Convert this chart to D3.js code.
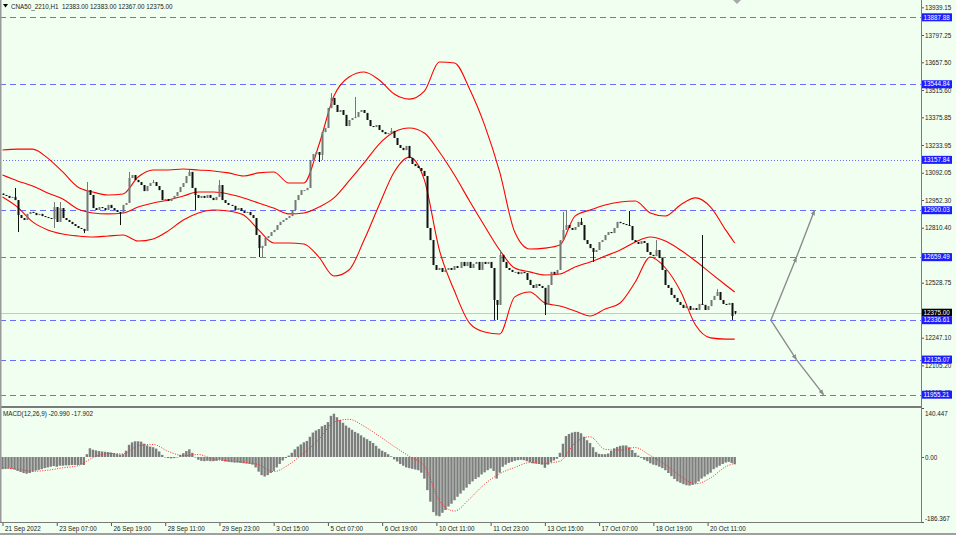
<!DOCTYPE html>
<html>
<head>
<meta charset="utf-8">
<script src="https://cdn.jsdelivr.net/npm/d3@7"></script>
<style>
body { margin: 0; background: #f0fff0; }
text { font-family: "Liberation Sans", Arial, sans-serif; font-size: 6.3px; fill: #222; }
</style>
</head>
<body>
<div id="chart"></div>
<script>
//hourly closes, one per bar
var closes = [
  12978, 12973, 12963, 12968, 12952, 12875, 12860, 12850, 12881, 12891,
  12886, 12875, 12881, 12870, 12865, 12860, 12855, 12916, 12840, 12911,
  12860, 12850, 12840, 12829, 12819, 12809, 12804, 12794, 13003, 12978,
  12911, 12901, 12916, 12911, 12901, 12927, 12911, 12901, 12891, 12886,
  12927, 12937, 13065, 13080, 13055, 13044, 13029, 12998, 13024, 13039,
  13044, 13024, 13003, 12952, 12957, 12947, 12957, 12973, 12993, 13019,
  13039, 13075, 13096, 13014, 12978, 12963, 12973, 12963, 12978, 12963,
  12952, 12968, 13029, 12952, 12937, 12927, 12922, 12901, 12911, 12896,
  12886, 12891, 12875, 12860, 12773, 12706, 12717, 12758, 12768, 12788,
  12799, 12824, 12840, 12850, 12860, 12870, 12901, 12952, 12978, 13003,
  13003, 13014, 13157, 13188, 13198, 13183, 13300, 13321, 13423, 13475,
  13439, 13403, 13413, 13388, 13331, 13362, 13372, 13377, 13403, 13413,
  13398, 13362, 13331, 13326, 13336, 13311, 13300, 13290, 13295, 13306,
  13270, 13234, 13219, 13208, 13229, 13167, 13137, 13126, 13116, 13101,
  13075, 12809, 12747, 12619, 12594, 12604, 12584, 12594, 12604, 12594,
  12614, 12604, 12635, 12614, 12635, 12604, 12625, 12635, 12594, 12635,
  12625, 12635, 12604, 12440, 12415, 12671, 12635, 12604, 12594, 12584,
  12584, 12573, 12584, 12578, 12543, 12517, 12502, 12522, 12512, 12502,
  12415, 12517, 12584, 12573, 12594, 12747, 12799, 12824, 12809, 12799,
  12814, 12840, 12824, 12747, 12727, 12706, 12686, 12696, 12737, 12747,
  12773, 12788, 12783, 12809, 12840, 12834, 12829, 12824, 12819, 12747,
  12737, 12727, 12742, 12732, 12686, 12671, 12665, 12696, 12655, 12594,
  12517, 12502, 12466, 12450, 12430, 12415, 12399, 12409, 12389, 12399,
  12389, 12420, 12415, 12389, 12409, 12440, 12461, 12481, 12440, 12420,
  12415, 12425, 12358, 12375
];
var firstOpen = 12985;
var lastBar = {open: 12383.00, high: 12383.00, low: 12367.00, close: 12375.00};
//bars with long wicks: [bar, high, low]
var spikes = [
  [4, 13014, null], [5, null, 12788], [17, 12942, 12809], [19, 12942, null],
  [27, null, 12783], [28, 13044, null], [39, null, 12824], [42, 13096, null],
  [50, 13055, null], [62, 13106, null], [64, null, 12901], [72, 13055, null],
  [85, null, 12660], [86, null, 12660], [105, null, 13147], [106, null, 13157],
  [109, 13500, null], [117, 13480, null], [129, 13321, null], [163, null, 12338],
  [164, null, 12338], [165, 12696, null], [180, null, 12363], [186, 12891, null],
  [187, 12901, null], [192, 12860, null], [196, null, 12635], [208, 12896, null],
  [217, 12747, null], [232, 12773, null], [237, 12496, null], [242, null, 12338]
];

//bollinger bands, read every 5 bars
var bandIdx = [0, 5, 10, 15, 20, 25, 30, 35, 40, 45, 50, 55, 60, 65, 70, 75, 80, 85, 90, 95,
  100, 105, 110, 115, 120, 125, 130, 135, 140, 145, 150, 155, 160, 165, 170, 175, 180, 185,
  190, 195, 200, 205, 210, 215, 220, 225, 230, 235, 240, 243];
var upperBand = [13208, 13213, 13213, 13167, 13096, 13019, 12993, 12978, 12983, 13070,
  13106, 13106, 13111, 13106, 13101, 13091, 13075, 13091, 13096, 13039,
  13039, 13234, 13485, 13582, 13608, 13567, 13495, 13469, 13510, 13659,
  13654, 13521, 13336, 13096, 12788, 12701, 12706, 12722, 12870, 12901,
  12927, 12942, 12947, 12886, 12870, 12927, 12963, 12916, 12799, 12732];
var middleBand = [13080, 13050, 13024, 12988, 12957, 12906, 12886, 12881, 12886, 12916,
  12937, 12952, 12973, 12993, 12993, 12983, 12963, 12937, 12911, 12881,
  12886, 12916, 12963, 13050, 13142, 13239, 13300, 13321, 13295, 13198,
  13080, 12947, 12819, 12696, 12604, 12584, 12568, 12573, 12609, 12635,
  12665, 12696, 12737, 12763, 12742, 12696, 12640, 12578, 12517, 12481];
var lowerBand = [12968, 12916, 12840, 12799, 12778, 12768, 12763, 12768, 12773, 12742,
  12753, 12794, 12850, 12886, 12901, 12896, 12875, 12799, 12732, 12732,
  12727, 12660, 12563, 12594, 12747, 12927, 13096, 13172, 13055, 12696,
  12486, 12322, 12276, 12266, 12456, 12481, 12425, 12409, 12384, 12358,
  12394, 12425, 12532, 12660, 12604, 12486, 12312, 12246, 12240, 12240];

//macd(12,26,9) main, one per bar
var macdMain = [
  -35, -34, -33, -34, -36, -40, -43, -46, -48, -46,
  -42, -39, -37, -35, -32, -30, -28, -26, -28, -25,
  -25, -24, -24, -23, -23, -23, -22, -23, 8, 25,
  21, 19, 17, 16, 15, 14, 13, 11, 9, 7,
  8, 18, 35, 42, 45, 45, 44, 38, 33, 30,
  28, 24, 16, 6, 0, -3, -4, -3, 0, 6,
  11, 17, 22, 12, 0, -8, -11, -12, -11, -12,
  -12, -11, -8, -11, -13, -14, -15, -16, -16, -17,
  -18, -19, -20, -22, -30, -42, -52, -56, -52, -46,
  -40, -30, -20, -10, -3, 4, 12, 22, 30, 36,
  42, 46, 58, 70, 76, 80, 88, 92, 100, 118,
  124, 114, 106, 98, 90, 84, 78, 72, 68, 62,
  56, 51, 46, 40, 32, 24, 18, 14, 8, 2,
  -7, -13, -20, -25, -30, -32, -34, -36, -38, -45,
  -62, -95, -128, -158, -168, -170, -160, -152, -142, -134,
  -124, -114, -105, -96, -88, -78, -70, -63, -58, -50,
  -44, -38, -33, -40, -62, -45, -28, -22, -17, -14,
  -11, -9, -8, -9, -12, -15, -18, -19, -20, -22,
  -31, -22, -15, -10, -5, 12, 38, 60, 66, 70,
  72, 72, 68, 58, 48, 40, 28, 14, 9, 8,
  8, 10, 18, 25, 29, 32, 33, 33, 28, 20,
  12, 4, -3, -8, -12, -18, -22, -24, -28, -32,
  -38, -46, -55, -63, -70, -74, -78, -81, -82, -80,
  -76, -70, -62, -56, -50, -45, -35, -30, -25, -20,
  -16, -14, -17, -20.99
];
//signal, read every 5 bars (same bars as bandIdx)
var macdSignal = [-31, -35, -41, -38, -31, -25, -2, 10, 9, 32,
  36, 16, 4, 7, -6, -11, -15, -22, -42, -22,
  12, 50, 100, 108, 88, 60, 30, 2, -26, -125,
  -155, -120, -78, -48, -30, -16, -18, -12, 40, 58,
  22, 20, 27, 4, -22, -55, -77, -60, -28, -17.902];

//price ticks (the one under the current price box is hidden there)
var priceTicks = [13939.15, 13797.25, 13657.50, 13515.60, 13375.85, 13233.95, 13092.05,
  12952.30, 12810.40, 12670.65, 12528.75, 12247.10, 12105.20, 11965.45];
var levels = [13887.88, 13544.84, 13157.84, 12900.03, 12659.49, 12336.61, 12135.07, 11955.21];
var dottedLevel = 13157.84;
var macdTicks = [140.447, 0, -186.367];
var timeLabels = [[0, "21 Sep 2022"], [18, "23 Sep 07:00"], [36, "26 Sep 19:00"], [54, "28 Sep 11:00"],
  [72, "29 Sep 23:00"], [90, "3 Oct 15:00"], [108, "5 Oct 07:00"], [126, "6 Oct 19:00"],
  [144, "10 Oct 11:00"], [162, "11 Oct 23:00"], [180, "13 Oct 15:00"], [198, "17 Oct 07:00"],
  [216, "18 Oct 19:00"], [234, "20 Oct 11:00"]];
//projection arrows: [bar, price]
var arrowUp = [[255, 12336.61], [263.5, 12659.49], [269.5, 12900.03]];
var arrowDown = [[255, 12336.61], [263.5, 12135.07], [272.5, 11955.21]];

var width = 956, height = 535;
var plotRight = 921, mainBottom = 406, macdTop = 408, macdBottom = 522;

var svg = d3.select("#chart").append("svg")
  .attr("width", width)
  .attr("height", height)
  .style("display", "block");

svg.append("rect").attr("width", width).attr("height", height).attr("fill", "#f0fff0");

var x = d3.scaleLinear().domain([0, closes.length - 1]).range([2.5, 734.7]);
var y = d3.scaleLinear().domain([13939.15, 12105.20]).range([7.3, 365.4]);
var ym = d3.scaleLinear().domain([140.447, -186.367]).range([macdTop, macdBottom]);

var defs = svg.append("defs");
defs.append("clipPath").attr("id", "mainclip").append("rect")
  .attr("x", 0).attr("y", 0).attr("width", plotRight).attr("height", mainBottom);
defs.append("marker").attr("id", "head")
  .attr("viewBox", "0 0 10 10").attr("refX", 9).attr("refY", 5)
  .attr("markerWidth", 4).attr("markerHeight", 4).attr("orient", "auto")
  .append("path").attr("d", "M0,1 L10,5 L0,9 z").attr("fill", "#8c8c8c");

var main = svg.append("g").attr("clip-path", "url(#mainclip)");

//price axis
var yAxis = svg.append("g")
  .attr("transform", "translate(" + plotRight + ",0)")
  .call(d3.axisRight(y).tickValues(priceTicks).tickSize(3).tickPadding(1)
    .tickFormat(function(d) { return d.toFixed(2); }));
yAxis.select(".domain").remove();
yAxis.selectAll("line").attr("stroke", "#555");
yAxis.selectAll("text").attr("font-size", null).attr("font-family", null).attr("fill", "#222");

//horizontal levels
main.selectAll(".level").data(levels).enter().append("line")
  .attr("x1", 0).attr("x2", plotRight)
  .attr("y1", function(d) { return Math.round(y(d)) + 0.5; })
  .attr("y2", function(d) { return Math.round(y(d)) + 0.5; })
  .attr("stroke", "#6c6cff")
  .attr("stroke-dasharray", function(d) { return d === dottedLevel ? "1,2" : "6,4"; });

//current price line
main.append("line")
  .attr("x1", 0).attr("x2", plotRight)
  .attr("y1", Math.round(y(lastBar.close)) + 0.5).attr("y2", Math.round(y(lastBar.close)) + 0.5)
  .attr("stroke", "#c8c8c8");

//bollinger bands
var bandLine = d3.line()
  .x(function(d) { return x(d[0]); })
  .y(function(d) { return y(d[1]); })
  .curve(d3.curveMonotoneX);
[upperBand, middleBand, lowerBand].forEach(function(b) {
  main.append("path").datum(d3.zip(bandIdx, b))
    .attr("d", bandLine).attr("fill", "none").attr("stroke", "#ff0000").attr("stroke-width", 1.1);
});

//candles
var bars = closes.map(function(c, i) {
  var o = i === 0 ? firstOpen : closes[i - 1];
  var b = {i: i, o: o, c: c, h: Math.max(o, c), l: Math.min(o, c)};
  if (i === closes.length - 1) { b.o = lastBar.open; b.h = lastBar.high; b.l = lastBar.low; }
  return b;
});
spikes.forEach(function(s) {
  if (s[1] !== null) bars[s[0]].h = Math.max(bars[s[0]].h, s[1]);
  if (s[2] !== null) bars[s[0]].l = Math.min(bars[s[0]].l, s[2]);
});
var candle = main.selectAll(".bar").data(bars).enter().append("g");
candle.append("line")
  .attr("x1", function(d) { return Math.round(x(d.i)) + 0.5; })
  .attr("x2", function(d) { return Math.round(x(d.i)) + 0.5; })
  .attr("y1", function(d) { return y(d.h); })
  .attr("y2", function(d) { return y(d.l); })
  .attr("stroke", function(d) { return d.c >= d.o ? "#777" : "#111"; });
candle.append("rect")
  .attr("x", function(d) { return Math.round(x(d.i)) - 0.5; })
  .attr("width", 2)
  .attr("y", function(d) { return y(Math.max(d.o, d.c)); })
  .attr("height", function(d) { return Math.max(1, Math.abs(y(d.o) - y(d.c))); })
  .attr("fill", function(d) { return d.c >= d.o ? "#777" : "#111"; });

//projection arrows
[arrowUp, arrowDown].forEach(function(a) {
  for (var k = 0; k < a.length - 1; k++) {
    main.append("line")
      .attr("x1", x(a[k][0])).attr("y1", y(a[k][1]))
      .attr("x2", x(a[k + 1][0])).attr("y2", y(a[k + 1][1]))
      .attr("stroke", "#8c8c8c").attr("stroke-width", 1.4)
      .attr("marker-end", "url(#head)");
  }
});

//level boxes on the price axis
var box = svg.selectAll(".box").data(levels).enter().append("g")
  .attr("transform", function(d) { return "translate(" + (plotRight + 1) + "," + y(d) + ")"; });
box.append("rect").attr("x", 0).attr("y", -4).attr("width", 30).attr("height", 8).attr("fill", "#1c1cff");
box.append("text").attr("x", 1.5).attr("y", 2.2).style("fill", "#fff")
  .text(function(d) { return d.toFixed(2); });

var cur = svg.append("g").attr("transform", "translate(" + (plotRight + 1) + "," + y(lastBar.close) + ")");
cur.append("rect").attr("x", 0).attr("y", -4).attr("width", 30).attr("height", 7.5).attr("fill", "#000");
cur.append("text").attr("x", 1.5).attr("y", 2.2).style("fill", "#fff").text(lastBar.close.toFixed(2));

//macd histogram and signal
svg.selectAll(".hist").data(macdMain).enter().append("rect")
  .attr("x", function(d, i) { return x(i) - 1.2; })
  .attr("width", 2.4)
  .attr("y", function(d) { return Math.min(ym(0), ym(d)); })
  .attr("height", function(d) { return Math.max(0.5, Math.abs(ym(d) - ym(0))); })
  .attr("fill", "#7e7e7e");

var sigLine = d3.line()
  .x(function(d) { return x(d[0]); })
  .y(function(d) { return ym(d[1]); })
  .curve(d3.curveMonotoneX);
svg.append("path").datum(d3.zip(bandIdx, macdSignal))
  .attr("d", sigLine).attr("fill", "none").attr("stroke", "#ff2a2a")
  .attr("stroke-width", 1).attr("stroke-dasharray", "1,1.5");

var mAxis = svg.append("g")
  .attr("transform", "translate(" + plotRight + ",0)")
  .call(d3.axisRight(ym).tickValues(macdTicks).tickSize(3).tickPadding(1)
    .tickFormat(function(d) { return d === 0 ? "0.00" : d.toFixed(3); }));
mAxis.select(".domain").remove();
mAxis.selectAll("line").attr("stroke", "#555");
mAxis.selectAll("text").attr("font-size", null).attr("font-family", null).attr("fill", "#222")
  .attr("y", function(d) { return d === macdTicks[0] ? 5 : (d === macdTicks[2] ? -4 : 0); });

//time axis
var xAxis = svg.append("g")
  .attr("transform", "translate(0," + macdBottom + ")")
  .call(d3.axisBottom(x).tickValues(timeLabels.map(function(t) { return t[0]; }))
    .tickSize(4).tickPadding(1)
    .tickFormat(function(d, i) { return timeLabels[i][1]; }));
xAxis.select(".domain").remove();
xAxis.selectAll("line").attr("stroke", "#555");
xAxis.selectAll("text").attr("font-size", null).attr("font-family", null).attr("fill", "#222")
  .attr("text-anchor", "start").attr("x", 2).attr("dy", "0.6em");

//frames
svg.append("line").attr("x1", plotRight + 0.5).attr("x2", plotRight + 0.5).attr("y1", 0).attr("y2", macdBottom)
  .attr("stroke", "#7a7a7a");
svg.append("line").attr("x1", 0).attr("x2", plotRight + 0.5).attr("y1", mainBottom + 1).attr("y2", mainBottom + 1)
  .attr("stroke", "#7a7a7a").attr("stroke-width", 2);
svg.append("line").attr("x1", 0).attr("x2", plotRight + 0.5).attr("y1", macdBottom + 0.5).attr("y2", macdBottom + 0.5)
  .attr("stroke", "#7a7a7a");
svg.append("line").attr("x1", 0.75).attr("x2", 0.75).attr("y1", 0).attr("y2", macdBottom)
  .attr("stroke", "#9a9a9a").attr("stroke-width", 1.5);
svg.append("line").attr("x1", 0).attr("x2", width).attr("y1", 534).attr("y2", 534)
  .attr("stroke", "#a0a0a0").attr("stroke-width", 2);

//shift marker
svg.append("path").attr("d", "M733,0 L741,0 L737,4 Z").attr("fill", "#a8a8a8");

//titles
svg.append("path").attr("d", "M3,4 L8,4 L5.5,7.5 Z").attr("fill", "#000");
svg.append("text").attr("x", 11).attr("y", 8.5).style("white-space", "pre")
  .text("CNA50_2210,H1  " + [lastBar.open, lastBar.high, lastBar.low, lastBar.close]
    .map(function(v) { return v.toFixed(2); }).join(" "));
svg.append("text").attr("x", 3).attr("y", 416)
  .text("MACD(12,26,9) " + macdMain[macdMain.length - 1].toFixed(3) + " " +
    macdSignal[macdSignal.length - 1].toFixed(3));
</script>
</body>
</html>
